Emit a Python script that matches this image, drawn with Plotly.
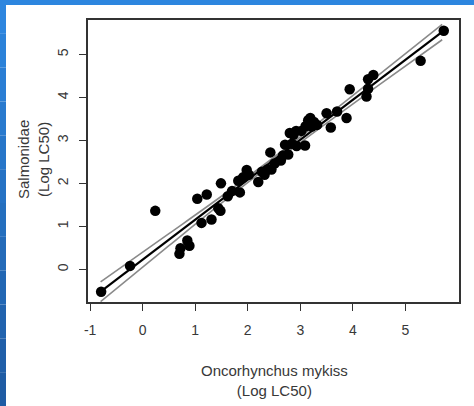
import plotly.graph_objects as go

# Data
mykiss = [-0.79, -0.24, 0.24, 0.70, 0.72, 0.85, 0.89, 1.04, 1.12, 1.22, 1.31, 1.44, 1.48,
          1.49, 1.62, 1.70, 1.82, 1.85, 1.91, 1.98, 2.02, 2.20, 2.27, 2.32, 2.37, 2.43,
          2.45, 2.51, 2.63, 2.67, 2.71, 2.77, 2.80, 2.84, 2.87, 2.92, 2.93, 3.02, 3.09,
          3.10, 3.15, 3.19, 3.22, 3.26, 3.32, 3.50, 3.58, 3.70, 3.88, 3.94, 4.26, 4.29,
          4.29, 4.39, 5.29, 5.73]
salmonidae = [-0.52, 0.08, 1.36, 0.36, 0.49, 0.67, 0.55, 1.64, 1.08, 1.74, 1.16, 1.42, 1.36,
              2.00, 1.70, 1.82, 2.06, 1.79, 2.14, 2.31, 2.20, 2.03, 2.27, 2.20, 2.32, 2.72,
              2.32, 2.46, 2.53, 2.65, 2.90, 2.67, 3.17, 2.92, 3.13, 3.22, 2.87, 3.22, 2.88,
              3.33, 3.47, 3.52, 3.32, 3.43, 3.36, 3.63, 3.30, 3.67, 3.52, 4.19, 4.02, 4.20,
              4.42, 4.52, 4.85, 5.55]

band_x = [-0.8, 0.5, 1.5, 2.6, 3.5, 4.5, 5.7]
fit_y = [-0.52, 0.685, 1.615, 2.638, 3.475, 4.405, 5.521]
upper_y = [-0.29, 0.83, 1.70, 2.70, 3.56, 4.53, 5.70]
lower_y = [-0.75, 0.55, 1.54, 2.58, 3.40, 4.29, 5.34]

x_ticks = [-1, 0, 1, 2, 3, 4, 5]
y_ticks = [0, 1, 2, 3, 4, 5]

W, H = 474, 406
L, R, T, B = 88, 15, 20, 104
pw, ph = W - L - R, H - T - B

fig = go.Figure()
for yy in (upper_y, lower_y):
    fig.add_trace(go.Scatter(x=band_x, y=yy, mode="lines", line=dict(color="#8a8a8a", width=1.6, shape="spline"),
                             hoverinfo="skip"))
fig.add_trace(go.Scatter(x=mykiss, y=salmonidae, mode="markers",
                         marker=dict(color="black", size=10.5, line=dict(width=0))))
fig.add_trace(go.Scatter(x=band_x, y=fit_y, mode="lines", line=dict(color="black", width=2.2)))

def px2paper_x(px):
    return (px - L) / pw

def py2paper_y(py):
    return (H - B - py) / ph

shapes = []
# white page with blue frame (top and left)
shapes.append(dict(type="rect", xref="paper", yref="paper", layer="below",
                   x0=px2paper_x(0), x1=px2paper_x(W), y0=py2paper_y(H), y1=py2paper_y(0),
                   fillcolor="white", line=dict(width=0)))
shapes.append(dict(type="rect", xref="paper", yref="paper", layer="below",
                   x0=px2paper_x(0), x1=px2paper_x(W), y0=py2paper_y(5), y1=py2paper_y(0),
                   fillcolor="#2d86df", line=dict(width=0)))
n = 12
c0 = (0x2d, 0x86, 0xdf)
c1 = (0x1f, 0x5c, 0xa4)
for i in range(n):
    t = i / (n - 1)
    col = "rgb(%d,%d,%d)" % tuple(int(c0[k] + (c1[k] - c0[k]) * t) for k in range(3))
    shapes.append(dict(type="rect", xref="paper", yref="paper", layer="below",
                       x0=px2paper_x(0), x1=px2paper_x(6),
                       y0=py2paper_y(H * (i + 1) / n), y1=py2paper_y(H * i / n),
                       fillcolor=col, line=dict(width=0)))

font = dict(family="Liberation Sans, Arial, sans-serif", color="#383838")
fig.update_layout(
    width=W, height=H, margin=dict(l=L, r=R, t=T, b=B),
    paper_bgcolor="white", plot_bgcolor="white", showlegend=False,
    shapes=shapes,
    font=font,
    xaxis=dict(range=[-1.04, 6.02], tickvals=x_ticks, ticktext=[str(v) for v in x_ticks],
               showgrid=False, zeroline=False, showline=True, mirror=True, linecolor="#333",
               linewidth=1.5, ticks="outside", ticklen=7, tickcolor="#333", tickwidth=1.3,
               tickfont=dict(size=14, color="#383838"), ticklabelstandoff=7),
    yaxis=dict(range=[-0.76, 5.80], tickvals=y_ticks, ticktext=[str(v) for v in y_ticks],
               showgrid=False, zeroline=False, showline=True, mirror=True, linecolor="#333",
               linewidth=1.5, ticks="outside", ticklen=7, tickcolor="#333", tickwidth=1.3,
               tickangle=-90, tickfont=dict(size=14, color="#383838"), ticklabelstandoff=6),
    annotations=[
        dict(text="Oncorhynchus mykiss<br>(Log LC50)", xref="paper", yref="paper",
             x=px2paper_x(274), y=py2paper_y(380), xanchor="center", yanchor="middle",
             showarrow=False, font=dict(size=15, color="#383838")),
        dict(text="Salmonidae<br>(Log LC50)", xref="paper", yref="paper",
             x=px2paper_x(33), y=py2paper_y(160), xanchor="center", yanchor="middle",
             textangle=-90, showarrow=False, font=dict(size=15, color="#383838")),
    ],
)
fig.write_html("out.html")
